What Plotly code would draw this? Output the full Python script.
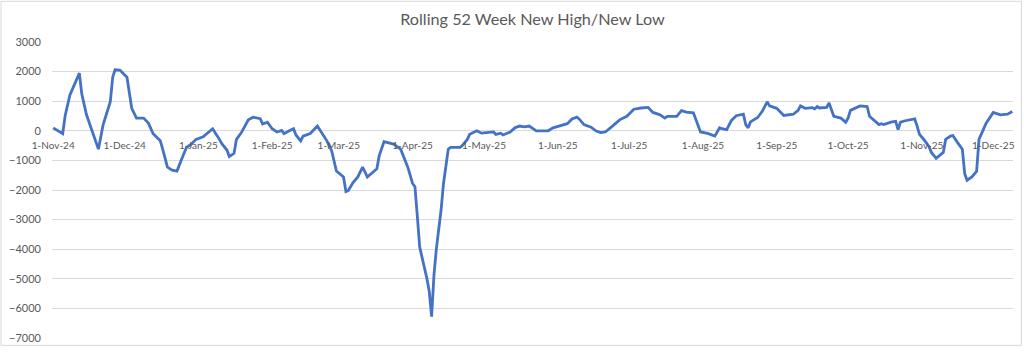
import plotly.graph_objects as go

# Data
dates = [
    "2024-11-01", "2024-11-05", "2024-11-06", "2024-11-08", "2024-11-12", "2024-11-13",
    "2024-11-15", "2024-11-19", "2024-11-20", "2024-11-22", "2024-11-25", "2024-11-26",
    "2024-11-27", "2024-11-29", "2024-12-02", "2024-12-04", "2024-12-06", "2024-12-09",
    "2024-12-11", "2024-12-13", "2024-12-16", "2024-12-17", "2024-12-19", "2024-12-21",
    "2024-12-23", "2024-12-25", "2024-12-27", "2024-12-29", "2024-12-31", "2025-01-03",
    "2025-01-05", "2025-01-07", "2025-01-09", "2025-01-11", "2025-01-13", "2025-01-14",
    "2025-01-16", "2025-01-17", "2025-01-19", "2025-01-22", "2025-01-24", "2025-01-27",
    "2025-01-28", "2025-01-30", "2025-02-01", "2025-02-03", "2025-02-05", "2025-02-06",
    "2025-02-08", "2025-02-10", "2025-02-11", "2025-02-13", "2025-02-14", "2025-02-17",
    "2025-02-20", "2025-02-22", "2025-02-24", "2025-02-26", "2025-02-28", "2025-03-03",
    "2025-03-04", "2025-03-05", "2025-03-07", "2025-03-09", "2025-03-11", "2025-03-12",
    "2025-03-13", "2025-03-17", "2025-03-18", "2025-03-20", "2025-03-22", "2025-03-24",
    "2025-03-27", "2025-03-30", "2025-04-01", "2025-04-02", "2025-04-03", "2025-04-04",
    "2025-04-07", "2025-04-08", "2025-04-09", "2025-04-10", "2025-04-11", "2025-04-13",
    "2025-04-14", "2025-04-15", "2025-04-16", "2025-04-17", "2025-04-21", "2025-04-22",
    "2025-04-24", "2025-04-25", "2025-04-28", "2025-04-30", "2025-05-02", "2025-05-05",
    "2025-05-06", "2025-05-08", "2025-05-09", "2025-05-12", "2025-05-14", "2025-05-16",
    "2025-05-18", "2025-05-20", "2025-05-23", "2025-05-27", "2025-05-28", "2025-05-30",
    "2025-06-02", "2025-06-05", "2025-06-07", "2025-06-09", "2025-06-10", "2025-06-12",
    "2025-06-15", "2025-06-17", "2025-06-19", "2025-06-21", "2025-06-24", "2025-06-27",
    "2025-06-30", "2025-07-03", "2025-07-06", "2025-07-09", "2025-07-10", "2025-07-11",
    "2025-07-14", "2025-07-16", "2025-07-17", "2025-07-21", "2025-07-23", "2025-07-25",
    "2025-07-28", "2025-07-29", "2025-07-31", "2025-08-03", "2025-08-06", "2025-08-08",
    "2025-08-09", "2025-08-11", "2025-08-13", "2025-08-15", "2025-08-18", "2025-08-19",
    "2025-08-20", "2025-08-21", "2025-08-24", "2025-08-26", "2025-08-28", "2025-08-29",
    "2025-09-01", "2025-09-04", "2025-09-08", "2025-09-10", "2025-09-11", "2025-09-13",
    "2025-09-16", "2025-09-17", "2025-09-18", "2025-09-19", "2025-09-22", "2025-09-23",
    "2025-09-25", "2025-09-28", "2025-09-30", "2025-10-01", "2025-10-02", "2025-10-06",
    "2025-10-09", "2025-10-10", "2025-10-14", "2025-10-15", "2025-10-16", "2025-10-19",
    "2025-10-21", "2025-10-22", "2025-10-23", "2025-10-25", "2025-10-29", "2025-10-30",
    "2025-10-31", "2025-11-02", "2025-11-04", "2025-11-05", "2025-11-07", "2025-11-10",
    "2025-11-11", "2025-11-13", "2025-11-14", "2025-11-16", "2025-11-18", "2025-11-19",
    "2025-11-20", "2025-11-22", "2025-11-24", "2025-11-25", "2025-11-28", "2025-12-01",
    "2025-12-04", "2025-12-07", "2025-12-09",
]

values = [
    100, -100, 500, 1200, 1950, 1250,
    540, -450, -620, 210, 980, 1810,
    2060, 2050, 1810, 760, 430, 430,
    260, -100, -340, -620, -1230, -1330,
    -1360, -950, -560, -450, -290, -200,
    -70, 70, -180, -450, -650, -870,
    -760, -290, -70, 370, 460, 410,
    230, 290, 70, -40, 10, -100,
    -10, 70, -140, -340, -180, -90,
    160, -70, -340, -670, -1360, -1560,
    -2050, -2020, -1750, -1560, -1230, -1390,
    -1560, -1280, -840, -370, -420, -450,
    -620, -1230, -1780, -1890, -2880, -3930,
    -4980, -5420, -6280, -4870, -3990, -2660,
    -1780, -1230, -620, -560, -560, -490,
    -290, -120, 0, -80, -60, -40,
    -120, -80, -140, -40, 100, 160,
    130, 160, 0, 10, 0, 100,
    160, 240, 400, 460, 400, 210,
    120, 0, -60, -40, 160, 370,
    490, 730, 770, 790, 700, 620,
    540, 430, 490, 490, 680, 630,
    610, 370, -40, -90, -180, 100,
    70, 40, 350, 510, 560, 210,
    100, 300, 450, 670, 980, 840,
    760, 520, 560, 690, 840, 760,
    780, 740, 820, 770, 790, 940,
    490, 430, 290, 430, 690, 840,
    820, 490, 210, 240, 210, 290,
    320, 40, 290, 340, 400, 160,
    -120, -310, -540, -730, -930, -730,
    -290, -180, -160, -400, -620, -1450,
    -1670, -1560, -1370, -290, 260, 620,
    540, 560, 650,
]

title_text = "Rolling 52 Week New High/New Low"
y_min, y_max, y_step = -7000, 3000, 1000
x_start, x_end = "2024-10-31 12:00", "2025-12-09 07:00"

FONT = "Lato, 'Open Sans', sans-serif"
GRAY_TXT = "#595959"
GRID = "#D9D9D9"

fig = go.Figure()
fig.add_trace(go.Scatter(
    x=dates, y=values, mode="lines",
    line=dict(color="#4472C4", width=2.8),
    hoverinfo="x+y", showlegend=False,
))

fig.update_layout(
    width=1024, height=352,
    margin=dict(l=52, r=11, t=42, b=8),
    paper_bgcolor="white", plot_bgcolor="white",
    title=dict(text=title_text, x=0.5, xanchor="center", xref="paper",
               y=1 - 19 / 352, yanchor="middle", yref="container",
               font=dict(family=FONT, size=16.2, color=GRAY_TXT)),
    font=dict(family=FONT, size=11, color=GRAY_TXT),
)

zero_pos = (0 - y_min) / (y_max - y_min)

fig.update_xaxes(
    type="date", range=[x_start, x_end],
    tick0="2024-11-01", dtick="M1", tickformat="%-d-%b-%y",
    showgrid=False, zeroline=False, showline=False,
    ticks="", anchor="free", position=zero_pos,
    ticklabelstandoff=7,
    tickfont=dict(family=FONT, size=10, color=GRAY_TXT),
)
fig.update_yaxes(
    range=[y_min, y_max], dtick=y_step, tick0=0,
    showgrid=True, gridcolor=GRID, gridwidth=1,
    zeroline=True, zerolinecolor=GRID, zerolinewidth=1,
    showline=False, ticks="", ticklabelstandoff=10,
    tickfont=dict(family=FONT, size=11, color=GRAY_TXT),
)

# light chart-area border (Excel style)
fig.add_shape(type="rect", xref="paper", yref="paper",
              x0=(1 - 52) / 961, x1=(1021.5 - 52) / 961,
              y0=(344 - 351.5) / 302, y1=(344 - 0.5) / 302,
              line=dict(color="#D9D9D9", width=1), fillcolor="rgba(0,0,0,0)",
              layer="below")

fig.write_html("out.html")
